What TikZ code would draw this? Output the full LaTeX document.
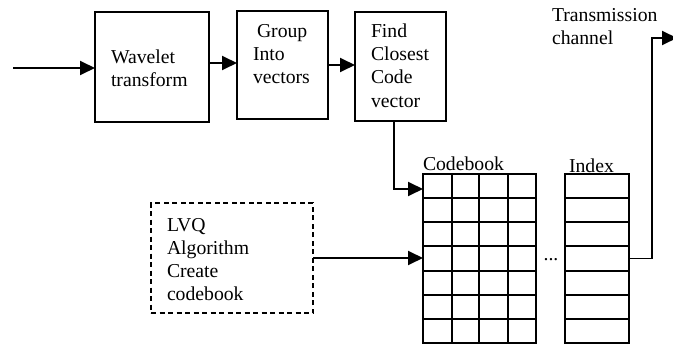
\documentclass[tikz,border=0pt]{standalone}
\usepackage{fontspec}
\setmainfont{Liberation Serif}
\usetikzlibrary{arrows.meta,calc}
\begin{document}
\begin{tikzpicture}[x=1pt,y=-1pt,
  every node/.style={inner sep=0pt,outer sep=0pt},
  blk/.style={draw,line width=1.9pt,rectangle},
  dblk/.style={blk,line width=1.7pt,dash pattern=on 5pt off 3.5pt},
  txt/.style={anchor=north west,align=left,font=\fontsize{19.7}{23.3}\selectfont},
  arr/.style={line width=1.9pt,-{Triangle[length=15pt,width=14pt]}},
  ln/.style={line width=1.9pt}]
\useasboundingbox (0,0) rectangle (673,345);
% boxes
\node[blk,minimum width=114pt,minimum height=110pt] (b1) at (152,67) {};
\node[blk,minimum width=91pt,minimum height=108pt] (b2) at (282.5,65) {};
\node[blk,minimum width=91pt,minimum height=109pt] (b3) at (400.5,66.5) {};
\node[dblk,minimum width=162pt,minimum height=110pt] (lvq) at (232,258) {};
\node[blk,minimum width=113pt,minimum height=169pt] (cb) at (479.5,258.5) {};
\node[blk,minimum width=64pt,minimum height=169pt] (idx) at (597,258.5) {};
% grid lines
\foreach \k in {1,...,6}{
  \draw[ln] ($(cb.north west)+(0,\k*24.14)$) -- ($(cb.north east)+(0,\k*24.14)$);
  \draw[ln] ($(idx.north west)+(0,\k*24.14)$) -- ($(idx.north east)+(0,\k*24.14)$);
}
\foreach \x in {452,479,508}{
  \draw[ln] (cb.north -| \x,0) -- (cb.south -| \x,0);
}
% texts
\node[txt] (t1) at (111,47) {\strut Wavelet\\transform};
\node[txt] (t2) at (253,21) {\strut\hspace{4pt}Group\\Into\\vectors};
\node[txt] (t3) at (371,21) {\strut Find\\Closest\\Code\\vector};
\node[txt] (t4) at (167,214.7) {\strut LVQ\\Algorithm\\Create\\codebook};
\node[txt] (tcb) at (423,153.7) {\strut Codebook};
\node[txt] (tidx) at (569,156) {\strut Index};
\node[txt] (ttr) at (552,4.7) {\strut Transmission\\channel};
\node[anchor=base,font=\fontsize{19.7}{23.3}\selectfont] (dots) at (551,260) {...};
% connectors
\coordinate (in) at (13,68);
\coordinate (a12) at (0,63);
\coordinate (c1) at (394,189);
\coordinate (o1) at (652,38);
\coordinate (oend) at (677,38);
\draw[arr] (in) -- (in -| b1.west);
\draw[arr] (b1.east |- a12) -- (b2.west |- a12);
\draw[arr] (b2.east) -- (b2.east -| b3.west);
\draw[arr] (b3.south -| c1) -- (c1) -- (c1 -| cb.west);
\draw[arr] (lvq.east) -- (lvq.east -| cb.west);
\draw[arr] (idx.east) -- (idx.east -| o1) -- (o1) -- (oend);
\end{tikzpicture}
\end{document}
